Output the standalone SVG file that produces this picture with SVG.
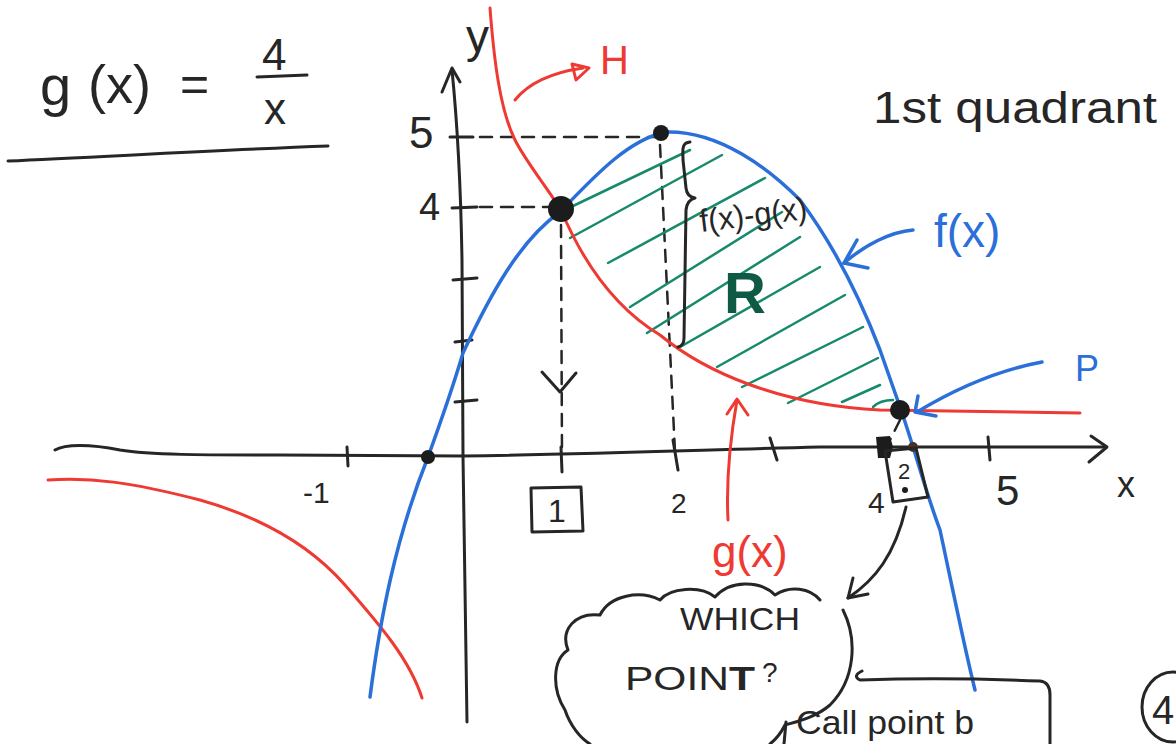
<svg xmlns="http://www.w3.org/2000/svg" width="1176" height="744" viewBox="0 0 1176 744">
<style>
.ink{fill:none;stroke:#262626;stroke-width:3;stroke-linecap:round;stroke-linejoin:round}
.dash{fill:none;stroke:#262626;stroke-width:2.5;stroke-dasharray:12 9;stroke-linecap:round}
.red{fill:none;stroke:#ee3a32;stroke-width:3;stroke-linecap:round;stroke-linejoin:round}
.blue{fill:none;stroke:#2b6fd8;stroke-width:3.5;stroke-linecap:round;stroke-linejoin:round}
.hatch{fill:none;stroke:#178a6b;stroke-width:2.5;stroke-linecap:round}
.t{font-family:"Liberation Sans",Arial,sans-serif;fill:#262626}
.tr{font-family:"Liberation Sans",Arial,sans-serif;fill:#ee3a32}
.tb{font-family:"Liberation Sans",Arial,sans-serif;fill:#2b6fd8}
.dot{fill:#1c1c1c}
</style>
<rect width="1176" height="744" fill="#ffffff"/>

<g id="title">
  <text class="t" x="40" y="105" font-size="56">g</text>
  <text class="t" x="88" y="103" font-size="54">(x)</text>
  <text class="t" x="180" y="101" font-size="50">=</text>
  <text class="t" x="262" y="70" font-size="44">4</text>
  <path class="ink" d="M257,77 L307,75"/>
  <text class="t" x="264" y="124" font-size="44">x</text>
  <path class="ink" d="M8,161 C100,157 220,150 328,146"/>
</g>

<g id="quadrant-label">
  <text class="t" x="873" y="123" font-size="44" textLength="284" lengthAdjust="spacingAndGlyphs">1st quadrant</text>
</g>

<g id="axes">
  <path class="ink" d="M55,450 C65,444 90,444 120,450 C150,455 200,455 280,455 L463,456 C600,454 700,450 820,447 L1106,447"/>
  <path class="ink" d="M1091,436 L1107,447 L1089,462"/>
  <path class="ink" d="M452,70 C457,120 461,200 462,260 L463,456 L467,722"/>
  <path class="ink" d="M442,92 L452,68 L460,82"/>
  <path class="ink" d="M347,447 L348,466 M561,447 L562,472 M673,440 L678,470 M770,438 L777,460 M988,437 L990,460"/>
  <path class="ink" d="M450,137 L473,137 M452,208 L477,207 M453,280 L477,278 M455,342 L472,340 M455,402 L477,400"/>
  <text class="t" x="466" y="52" font-size="46">y</text>
  <text class="t" x="1117" y="497" font-size="36">x</text>
  <text class="t" x="409" y="148" font-size="44">5</text>
  <text class="t" x="419" y="220" font-size="38">4</text>
  <text class="t" x="303" y="503" font-size="30">-1</text>
  <path class="ink" d="M531,488 L581,487 L583,531 L532,532 Z"/>
  <text class="t" x="548" y="522" font-size="32">1</text>
  <text class="t" x="671" y="513" font-size="28">2</text>
  <text class="t" x="868" y="513" font-size="30">4</text>
  <text class="t" x="996" y="505" font-size="42">5</text>
</g>

<g id="guides">
  <path class="dash" d="M480,137 L655,137"/>
  <path class="dash" d="M480,207 L550,207"/>
  <path class="dash" d="M561,225 L562,455"/>
  <path class="ink" d="M542,372 L560,392 L576,373"/>
  <path class="dash" d="M660,145 L675,452"/>
  <path class="dash" d="M900,420 L889,442"/>
</g>

<g id="region-R">
  <path class="hatch" d="M573,206 L690,150 M570,238 L722,155 M608,263 L765,178 M630,307 L782,212 M647,333 L800,237 M680,347 L820,267 M717,367 L845,295 M742,387 L863,327 M788,403 L878,358 M842,402 L880,385"/>
  <path class="hatch" d="M873,407 Q880,400 893,400"/>
  <text x="724" y="313" font-family="Liberation Sans,Arial,sans-serif" font-weight="bold" font-size="58" fill="#0f5a45">R</text>
</g>

<g id="curve-g">
  <path class="red" d="M490,8 C494,60 500,110 515,140 C525,160 545,185 561,210 C580,255 610,305 660,335 C705,372 780,405 880,410 L1080,413"/>
  <path class="red" d="M48,480 C90,477 130,482 200,500 C260,517 310,545 345,585 C380,625 410,660 422,698"/>
</g>

<g id="curve-f">
  <path class="blue" d="M370,697 C380,620 395,540 428,457 C445,410 455,380 463,353 C490,295 520,240 560,212 C600,170 630,140 665,132 C720,130 770,170 800,200 C830,240 855,285 880,350 L900,407 C915,450 925,490 940,530 C955,600 965,650 975,690"/>
</g>

<g id="brace">
  <path class="ink" d="M690,142 C681,143 683,150 683,160 L686,188 Q687,197 695,198 Q687,200 686,210 L684,338 Q684,346 678,347"/>
  <text class="t" x="701" y="232" font-size="32" textLength="108" lengthAdjust="spacingAndGlyphs" transform="rotate(-7 701 232)">f(x)-g(x)</text>
</g>

<g id="points">
  <circle class="dot" cx="561" cy="209" r="13"/>
  <circle class="dot" cx="661" cy="133" r="8"/>
  <circle class="dot" cx="900" cy="410" r="10"/>
  <circle class="dot" cx="428" cy="457" r="7"/>
  <circle cx="913" cy="447" r="5" fill="#4a3222"/>
  <path class="dot" d="M876,437 L890,436 L893,447 L890,458 L878,458 Z"/>
</g>

<g id="point-b-box">
  <path class="ink" d="M885,451 L916,448 L928,497 L893,502 Z"/>
  <text class="t" x="898" y="479" font-size="22">2</text>
  <circle class="dot" cx="905" cy="490" r="3"/>
</g>

<g id="label-H">
  <path class="red" d="M515,100 Q535,75 583,68"/>
  <path class="red" d="M572,64 L589,68 L576,80 Z"/>
  <text class="tr" x="600" y="74" font-size="40">H</text>
</g>

<g id="label-f">
  <path class="blue" d="M913,230 C890,232 865,245 844,263"/>
  <path class="blue" d="M857,240 L844,263 L868,268"/>
  <text class="tb" x="934" y="247" font-size="46">f(x)</text>
</g>

<g id="label-P">
  <path class="blue" d="M1042,362 C1010,368 970,380 917,412"/>
  <path class="blue" d="M918,396 L915,412 L936,416"/>
  <text class="tb" x="1075" y="381" font-size="36">P</text>
</g>

<g id="label-g">
  <path class="red" d="M728,520 C726,480 730,440 737,400"/>
  <path class="red" d="M727,414 L737,399 L748,415"/>
  <text class="tr" x="712" y="567" font-size="44">g(x)</text>
</g>

<g id="cloud">
  <path class="ink" d="M820,600 C810,588 790,585 775,595 C760,580 730,580 715,597 C700,585 670,588 660,600 C640,590 610,595 600,615 C575,612 560,630 568,650 C552,660 552,690 565,710 C570,725 580,738 590,744"/>
  <path class="ink" d="M843,610 C858,640 855,680 830,705 C815,718 795,722 785,725 C780,735 775,740 770,744"/>
  <text class="t" x="680" y="630" font-size="32" textLength="120" lengthAdjust="spacingAndGlyphs">WHICH</text>
  <text class="t" x="625" y="690" font-size="34" textLength="130" lengthAdjust="spacingAndGlyphs">POIN<tspan font-weight="bold">T</tspan></text>
  <text class="t" x="762" y="682" font-size="28">?</text>
  <path class="ink" d="M906,507 C895,555 875,580 848,598"/>
  <path class="ink" d="M853,578 L848,598 L868,594"/>
</g>

<g id="call-point-b">
  <path class="ink" d="M862,671 Q852,676 860,680 C920,678 990,679 1040,681 Q1050,682 1050,695 L1050,744"/>
  <path class="ink" d="M786,722 L784,744"/>
  <text class="t" x="796" y="734" font-size="34" textLength="178" lengthAdjust="spacingAndGlyphs">Call point b</text>
</g>

<g id="page-number">
  <ellipse class="ink" cx="1173" cy="707" rx="31" ry="35"/>
  <text class="t" x="1152" y="724" font-size="40">4</text>
</g>
</svg>
